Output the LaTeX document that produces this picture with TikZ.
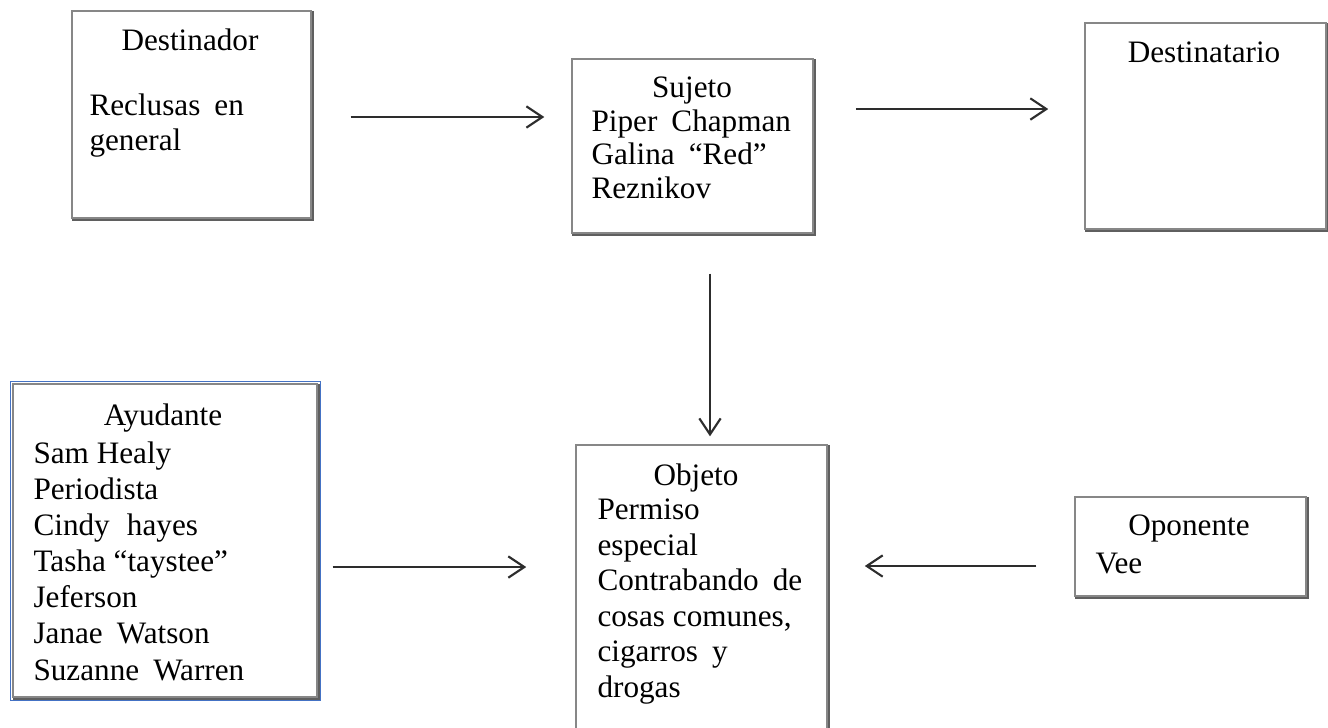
\documentclass[tikz,border=0pt]{standalone}
\usepackage{fontspec}
\setmainfont{Liberation Serif}
\usetikzlibrary{arrows.meta}
\definecolor{boxgray}{RGB}{135,135,135}
\definecolor{shadowgray}{RGB}{95,95,95}
\definecolor{arrgray}{RGB}{45,45,45}
\definecolor{wordblue}{RGB}{68,114,196}
\tikzset{
  boxnode/.style={draw=boxgray, line width=0.55pt, inner sep=0pt, fill=white},
  boxshadow/.style={draw=shadowgray, line width=0.6pt},
  arr/.style={draw=arrgray, line width=0.75pt, -{Straight Barb[length=6pt,width=8pt,line width=0.8pt]}},
  ttl/.style={anchor=base, inner sep=0pt, font=\fontsize{11.7}{13.2}\selectfont},
  body/.style={anchor=base west, inner sep=0pt, align=left, font=\fontsize{11.7}{#1}\selectfont},
}
\newcommand{\wsp}{\hspace{0.45em}}
\begin{document}
\begin{tikzpicture}[x=0.375pt, y=-0.375pt]
\useasboundingbox (0,0) rectangle (1328,727);
% boxes
\node[boxnode, minimum width=89.6pt, minimum height=77.6pt] (dest) at (191.5,114.5) {};
\node[boxnode, minimum width=90.4pt, minimum height=65.25pt] (suj) at (692.5,146) {};
\node[boxnode, minimum width=90.4pt, minimum height=77.25pt] (dtar) at (1205.5,126) {};
\node[draw=wordblue, line width=0.45pt, inner sep=0pt, minimum width=116.4pt, minimum height=119.6pt] (ayudb) at (165.5,541) {};
\node[boxnode, minimum width=114pt, minimum height=117.4pt] (ayud) at (165,540.5) {};
\node[boxnode, minimum width=94.1pt, minimum height=118.1pt] (obj) at (701.5,602.5) {};
\node[boxnode, minimum width=86.6pt, minimum height=37.1pt] (opo) at (1190.5,546.5) {};
% shadows (right and bottom edges)
\foreach \b in {dest,suj,dtar,ayud,obj,opo}{
  \draw[boxshadow] ([xshift=0.5pt,yshift=-0.3pt]\b.north east) -- ([xshift=0.5pt,yshift=-0.5pt]\b.south east) -- ([xshift=0.3pt,yshift=-0.5pt]\b.south west);
}
% texts (body nodes are placed at the baseline of their last line)
\node[ttl] (destT) at (190,50) {Destinador};
\node[body=13.1pt] (destB) at (89,150) {Reclusas\wsp en\\general};
\node[ttl] (sujT) at (692,97) {Sujeto};
\node[body=12.4pt] (sujB) at (591,198) {Piper\wsp Chapman\\Galina\wsp “Red”\\Reznikov};
\node[ttl] (dtarT) at (1204,62) {Destinatario};
\node[ttl] (ayudT) at (163,425) {Ayudante};
\node[body=13.56pt] (ayudB) at (33,680) {Sam Healy\\Periodista\\Cindy\hspace{0.3em} hayes\\Tasha “taystee”\\Jeferson\\Janae\wsp Watson\\Suzanne\wsp Warren};
\node[ttl] (objT) at (696,485) {Objeto};
\node[body=13.3pt] (objB) at (597,697) {Permiso\\especial\\Contrabando\wsp de\\cosas comunes,\\cigarros\wsp y\\drogas};
\node[ttl] (opoT) at (1189,535) {Oponente};
\node[body=13pt] (opoB) at (1095,573) {Vee};
% arrows
\coordinate (c1) at (0,117);
\coordinate (c2) at (0,109);
\coordinate (c3) at (710,0);
\coordinate (c4) at (0,567);
\coordinate (c5) at (0,566);
\draw[arr, shorten <=14.6pt, shorten >=10.1pt] (dest.east |- c1) -- (suj.west |- c1);
\draw[arr, shorten <=15.75pt, shorten >=13.5pt] (suj.east |- c2) -- (dtar.west |- c2);
\draw[arr, shorten <=15pt, shorten >=3pt] (suj.south -| c3) -- (obj.north -| c3);
\draw[arr, shorten <=5.6pt, shorten >=18.4pt] (ayud.east |- c4) -- (obj.west |- c4);
\draw[arr, shorten <=14.25pt, shorten >=13.9pt] (opo.west |- c5) -- (obj.east |- c5);
\end{tikzpicture}
\end{document}
